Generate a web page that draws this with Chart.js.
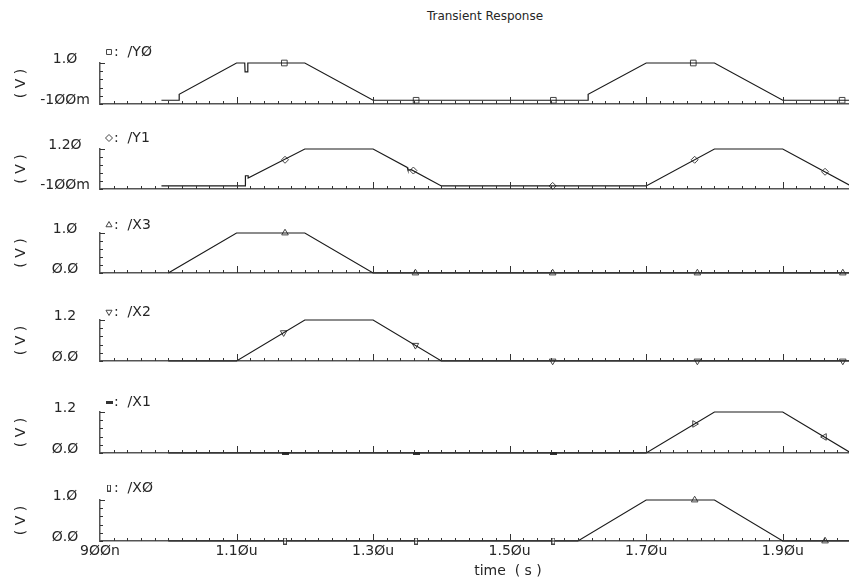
<!DOCTYPE html>
<html>
<head>
<meta charset="utf-8">
<title>Transient Response</title>
<script src="https://cdn.jsdelivr.net/npm/chart.js@4.4.1/dist/chart.umd.min.js"></script>
<style>
  html, body { margin: 0; padding: 0; background: #fff; width: 849px; height: 579px; overflow: hidden; }
  .panel { position: absolute; left: 0; }
  #title { position: absolute; left: 385px; top: 9px; width: 200px; text-align: center;
           font: 12px "DejaVu Sans"; color: #262626; }
</style>
</head>
<body>
<div id="title">Transient Response</div>
<div id="wrap"></div>
<script>
// time axis, in ns
var xMin = 900;
var xMax = 2000;
var xLabelTimes = [900, 1100, 1300, 1500, 1700, 1900];
var xLabels = ["9ØØn", "1.1Øu", "1.3Øu", "1.5Øu", "1.7Øu", "1.9Øu"];

var signalNames = ["/YØ", "/Y1", "/X3", "/X2", "/X1", "/XØ"];
var yMins = [-0.1, -0.1, 0, 0, 0, 0];
var yMaxs = [1.0, 1.2, 1.0, 1.2, 1.2, 1.0];
var yMinLabels = ["-1ØØm", "-1ØØm", "Ø.Ø", "Ø.Ø", "Ø.Ø", "Ø.Ø"];
var yMaxLabels = ["1.Ø", "1.2Ø", "1.Ø", "1.2", "1.2", "1.Ø"];

// waveforms (time ns, volts)
var y0Time = [990, 1016, 1016, 1100, 1112, 1112.5, 1116, 1116.5, 1200, 1300, 1615, 1615, 1700, 1800, 1900, 2000];
var y0Volt = [0, 0, 0.16, 1.0, 1.0, 0.76, 0.76, 1.0, 1.0, 0, 0, 0.16, 1.0, 1.0, 0, 0];
var y1Time = [990, 1113, 1113, 1117, 1117, 1200, 1300, 1350, 1351, 1355, 1356, 1400, 1700, 1800, 1900, 2000];
var y1Volt = [0, 0, 0.33, 0.33, 0.26, 1.2, 1.2, 0.6, 0.52, 0.52, 0.53, 0, 0, 1.2, 1.2, 0];
var x3Time = [1000, 1100, 1200, 1300, 2000];
var x3Volt = [0, 1.0, 1.0, 0, 0];
var x2Time = [1000, 1100, 1200, 1300, 1400, 2000];
var x2Volt = [0, 0, 1.2, 1.2, 0, 0];
var x1Time = [1000, 1700, 1800, 1900, 2000];
var x1Volt = [0, 0, 1.2, 1.2, 0];
var x0Time = [1000, 1600, 1700, 1800, 1900, 2000];
var x0Volt = [0, 0, 1.0, 1.0, 0, 0];

// marker symbols along each trace
var y0MarkTime = [1170, 1363, 1564, 1769, 1987];
var y0MarkVolt = [1.0, 0, 0, 1.0, 0];
var y1MarkTime = [1171, 1359, 1563, 1771, 1962];
var y1MarkVolt = [0.85, 0.5, 0, 0.85, 0.46];
var x3MarkTime = [1171, 1362, 1563, 1775, 1988];
var x3MarkVolt = [1.0, 0, 0, 0, 0];
var x2MarkTime = [1169, 1362, 1563, 1775, 1988];
var x2MarkVolt = [0.83, 0.46, 0, 0, 0];
var x1MarkTime = [1171, 1363, 1564, 1771, 1961];
var x1MarkVolt = [0, 0, 0, 0.85, 0.47];
var x0MarkTime = [1171, 1363, 1564, 1771, 1962];
var x0MarkVolt = [0, 0, 0, 1.0, 0];

var times = [y0Time, y1Time, x3Time, x2Time, x1Time, x0Time];
var volts = [y0Volt, y1Volt, x3Volt, x2Volt, x1Volt, x0Volt];
var markTimes = [y0MarkTime, y1MarkTime, x3MarkTime, x2MarkTime, x1MarkTime, x0MarkTime];
var markVolts = [y0MarkVolt, y1MarkVolt, x3MarkVolt, x2MarkVolt, x1MarkVolt, x0MarkVolt];

// layout (page pixels)
var panelTop = [63, 149, 233, 320, 412, 500];
var panelBottom = [104, 189, 273, 361, 453, 541];
var legendY = [52, 138, 225, 312, 402, 488];
var headRoom = 32;
var plotLeft = 100;
var pageW = 851;

var ink = "#262626";
var fontFamily = "DejaVu Sans";
var fontSize = 14;

function barImage(w, h, filled) {
  var c = document.createElement("canvas");
  c.width = w; c.height = h;
  var g = c.getContext("2d");
  if (filled) {
    g.fillStyle = "#333";
    g.fillRect(0, 0, w, h);
  } else {
    g.fillStyle = "#fff";
    g.fillRect(0, 0, w, h);
    g.strokeStyle = "#444";
    g.lineWidth = 1;
    g.strokeRect(0.5, 0.5, w - 1, h - 1);
  }
  return c;
}

var hBar = barImage(7, 3, true);
var vBar = barImage(4, 7, false);

// legend symbol + per-marker styles
var markStyles = [
  { legend: "rect", legendRot: 0, style: "rect", rotation: 0, radius: 4 },
  { legend: "rectRot", legendRot: 0, style: "rectRot", rotation: 0, radius: 3.5 },
  { legend: "triangle", legendRot: 0, style: "triangle", rotation: 0, radius: 3.8 },
  { legend: "triangle", legendRot: 180, style: "triangle", rotation: 180, radius: 3.8 },
  { legend: hBar, legendRot: 0, style: [hBar, hBar, hBar, "triangle", "triangle"], rotation: [0, 0, 0, 90, 270], radius: 3.8 },
  { legend: vBar, legendRot: 0, style: [vBar, vBar, vBar, "triangle", "triangle"], rotation: 0, radius: 3.8 }
];

var measure = document.createElement("canvas").getContext("2d");
measure.font = fontSize + "px '" + fontFamily + "'";

function noPad(s) {
  s.paddingTop = 0; s.paddingBottom = 0; s.paddingLeft = 0; s.paddingRight = 0;
}

// ticks drawn pointing into the plot, like the simulator's axes
var insideTicks = {
  id: "insideTicks",
  afterDraw: function (chart) {
    var ctx = chart.ctx, xs = chart.scales.x, ys = chart.scales.y, a = chart.chartArea;
    ctx.save();
    ctx.strokeStyle = "#333";
    ctx.lineWidth = 1;
    ctx.beginPath();
    xs.ticks.forEach(function (t) {
      var v = Math.round(t.value);
      if (v <= xMin) return;
      var px = Math.round(xs.getPixelForValue(v)) + 0.5;
      var len = (v - xMin) % 200 === 0 ? 7 : 3;
      ctx.moveTo(px, a.bottom);
      ctx.lineTo(px, a.bottom - len);
    });
    ys.ticks.forEach(function (t, k) {
      var py = Math.round(ys.getPixelForValue(t.value)) + 0.5;
      var len = k === ys.ticks.length - 1 ? 5 : 3;
      ctx.moveTo(a.left, py);
      ctx.lineTo(a.left + len, py);
    });
    ctx.stroke();
    ctx.restore();
  }
};

function makePanel(i) {
  var last = i === 5;
  var axisH = last ? 579 - panelBottom[i] : 8;
  var canvasTop = panelTop[i] - headRoom;
  var canvasH = panelBottom[i] - panelTop[i] + headRoom + axisH;

  var div = document.createElement("div");
  div.className = "panel";
  div.style.top = canvasTop + "px";
  var cv = document.createElement("canvas");
  cv.width = pageW;
  cv.height = canvasH;
  div.appendChild(cv);
  document.getElementById("wrap").appendChild(div);

  var widest = Math.max(measure.measureText(yMinLabels[i]).width, measure.measureText(yMaxLabels[i]).width);
  var ms = markStyles[i];

  var panelText = {
    id: "panelText",
    afterDraw: function (chart) {
      var ctx = chart.ctx, a = chart.chartArea;
      ctx.save();
      ctx.font = fontSize + "px '" + fontFamily + "'";
      ctx.textBaseline = "middle";
      // legend entry
      var ly = legendY[i] - canvasTop;
      ctx.strokeStyle = "#444";
      ctx.lineWidth = 1;
      ctx.fillStyle = "rgba(0,0,0,0)";
      Chart.helpers.drawPoint(ctx, { pointStyle: ms.legend, rotation: ms.legendRot, radius: 3.5, borderWidth: 1 }, 109, ly);
      ctx.fillStyle = ink;
      ctx.textAlign = "left";
      ctx.fillText(":  " + signalNames[i], 114, ly);
      // y title
      ctx.save();
      ctx.translate(21, (a.top + a.bottom) / 2);
      ctx.rotate(-Math.PI / 2);
      ctx.textAlign = "center";
      ctx.fillText("( V )", 0, 0);
      ctx.restore();
      if (last) {
        ctx.textAlign = "center";
        ctx.fillText("time  ( s )", 508, 571 - canvasTop);
      }
      ctx.restore();
    }
  };

  return new Chart(cv, {
    type: "line",
    data: {
      datasets: [
        {
          data: times[i].map(function (t, k) { return { x: t, y: volts[i][k] }; }),
          borderColor: "#1a1a1a",
          borderWidth: 1.2,
          pointRadius: 0,
          tension: 0,
          clip: false
        },
        {
          data: markTimes[i].map(function (t, k) { return { x: t, y: markVolts[i][k] }; }),
          showLine: false,
          pointStyle: ms.style,
          rotation: ms.rotation,
          pointRadius: ms.radius,
          pointBorderColor: "#444",
          pointBackgroundColor: "rgba(0,0,0,0)",
          pointBorderWidth: 1,
          clip: false
        }
      ]
    },
    options: {
      responsive: false,
      animation: false,
      events: [],
      layout: { autoPadding: false, padding: { top: headRoom, left: 0, right: 0, bottom: 0 } },
      plugins: { legend: { display: false }, tooltip: { enabled: false } },
      scales: {
        x: {
          type: "linear",
          min: xMin,
          max: xMax,
          afterFit: function (s) { s.height = axisH; noPad(s); },
          grid: { display: false, drawTicks: false },
          border: { display: true, color: "#555", width: 1.5 },
          ticks: {
            display: last,
            stepSize: 20,
            maxTicksLimit: 200,
            autoSkip: false,
            minRotation: 0,
            maxRotation: 0,
            padding: 2,
            color: ink,
            font: { family: fontFamily, size: fontSize },
            callback: function (v) {
              var k = xLabelTimes.indexOf(Math.round(v));
              return k >= 0 ? xLabels[k] : "";
            }
          }
        },
        y: {
          type: "linear",
          min: yMins[i],
          max: yMaxs[i],
          afterFit: function (s) { s.width = plotLeft; noPad(s); },
          afterBuildTicks: function (s) {
            var t = [];
            for (var k = 0; k <= 5; k++) t.push({ value: s.min + (s.max - s.min) * k / 5 });
            s.ticks = t;
          },
          grid: { display: false, drawTicks: false },
          border: { display: true, color: "#555", width: 1.5 },
          ticks: {
            crossAlign: "center",
            padding: 35 - widest / 2,
            labelOffset: -4,
            autoSkip: false,
            color: ink,
            font: { family: fontFamily, size: fontSize },
            callback: function (v, k) {
              if (k === 0) return yMinLabels[i];
              if (k === 5) return yMaxLabels[i];
              return "";
            }
          }
        }
      }
    },
    plugins: [insideTicks, panelText]
  });
}

for (var i = 0; i < 6; i++) makePanel(i);
</script>
</body>
</html>
